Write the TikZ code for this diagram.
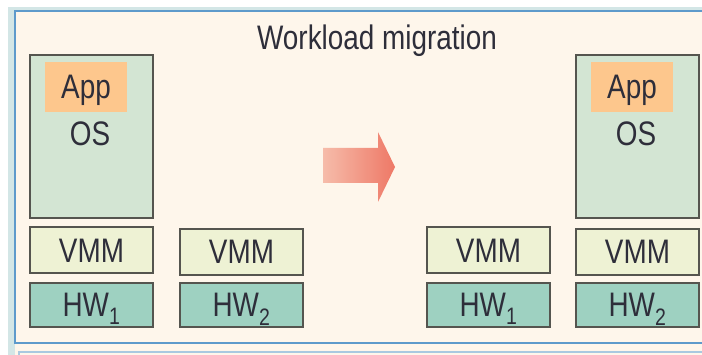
\documentclass[tikz,border=0pt]{standalone}
\usepackage{fontspec}
\setmainfont{Liberation Sans}[FakeStretch=0.82]
\definecolor{bandteal}{HTML}{D3E6E6}
\definecolor{panelcream}{HTML}{FEF6EB}
\definecolor{frameblue}{HTML}{5E9ACB}
\definecolor{paleblue}{HTML}{A9C9E0}
\definecolor{osgreen}{HTML}{D3E5D3}
\definecolor{apporange}{HTML}{FDC78D}
\definecolor{vmmyellow}{HTML}{EEF2D4}
\definecolor{hwteal}{HTML}{9ED1C1}
\definecolor{edgegray}{HTML}{55554F}
\definecolor{inkdark}{HTML}{2E2E3A}
\definecolor{arrowlight}{HTML}{F6BCAA}
\definecolor{arrowdark}{HTML}{EE7866}
\begin{document}
\begin{tikzpicture}[x=1pt,y=-1pt,
  every node/.style={font=\fontsize{34}{40}\selectfont, text=inkdark},
  layer/.style={draw=edgegray, line width=2pt, inner sep=0pt,
    minimum width=123pt, text height=24pt, text depth=0pt},
  osbox/.style={layer, fill=osgreen, minimum height=163pt},
  vmmbox/.style={layer, fill=vmmyellow, minimum height=46pt},
  hwbox/.style={layer, fill=hwteal, minimum height=44pt},
  appbox/.style={fill=apporange, inner sep=0pt, minimum width=82pt,
    minimum height=50pt, text height=24pt, text depth=0pt},
  caption/.style={inner sep=0pt, text height=24pt, text depth=0pt}]
\useasboundingbox (0,0) rectangle (702,355);
% outer panel with its pale edge band
\fill[bandteal] (8,7) rectangle (702,355);
\fill[panelcream] (15,11) rectangle (702,355);
\draw[frameblue, line width=2.5pt] (705,11) -- (15,11) -- (15,343) -- (705,343);
\draw[paleblue, line width=1.5pt] (19,358) -- (19,352) -- (705,352);
% title
\node[caption] (title) at (377,37.5) {Workload migration};
% before migration
\node[osbox] (os1) at (91.5,136.5) {};
\node[appbox] (app1) at (86,87) {App};
\node[caption] (os1text) at (90,134) {OS};
\node[vmmbox] (vmm1a) at (91.5,250.5) {VMM};
\node[hwbox] (hw1a) at (91.5,305) {HW\textsubscript{1}};
\node[vmmbox] (vmm2a) at (241.5,252) {VMM};
\node[hwbox] (hw2a) at (241.5,305) {HW\textsubscript{2}};
% migration arrow
\shade[left color=arrowlight, right color=arrowdark]
  (323,148) -- (378,148) -- (378,132) -- (395,167) -- (378,202)
  -- (378,183) -- (323,183) -- cycle;
% after migration
\node[vmmbox] (vmm1b) at (488.5,250.5) {VMM};
\node[hwbox] (hw1b) at (488.5,305) {HW\textsubscript{1}};
\node[osbox] (os2) at (637.5,136.5) {};
\node[appbox] (app2) at (632,87) {App};
\node[caption] (os2text) at (636,134) {OS};
\node[vmmbox] (vmm2b) at (637.5,252) {VMM};
\node[hwbox] (hw2b) at (637.5,305) {HW\textsubscript{2}};
\end{tikzpicture}
\end{document}
